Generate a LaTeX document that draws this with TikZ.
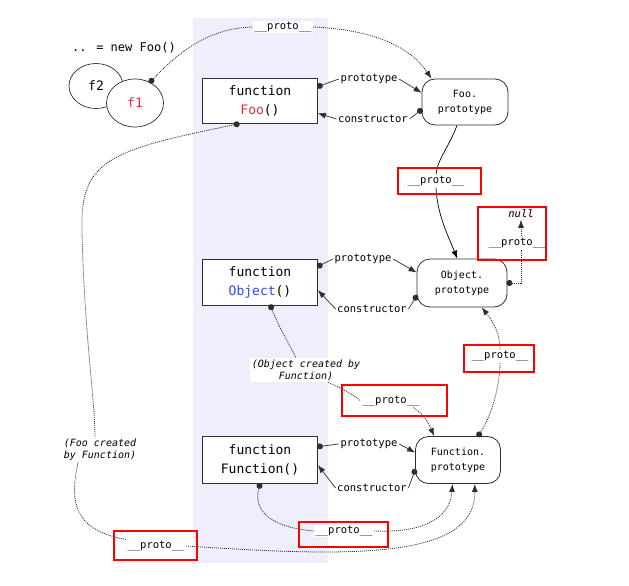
\documentclass[tikz,border=0pt]{standalone}
\usepackage{fontspec}
\setmainfont{DejaVu Sans Mono}
\usetikzlibrary{arrows.meta,shapes.geometric}

\definecolor{bandblue}{rgb}{0.933, 0.933, 0.988}
\definecolor{fooRed}{rgb}{0.900, 0.180, 0.180}
\definecolor{objBlue}{rgb}{0.180, 0.300, 0.900}
\definecolor{lineGray}{rgb}{0.180, 0.180, 0.180}

\tikzset{
  dotend/.tip={Circle[length=6pt, sep=-1pt]},
  >={Latex[length=8pt,width=6pt]},
  fnbox/.style={draw=lineGray, line width=0.8pt, fill=white, minimum width=115pt,
    minimum height=45pt, align=center, inner sep=0pt, font=\fontsize{13}{19}\selectfont},
  protobox/.style={draw=lineGray, line width=0.8pt, fill=white, rounded corners=13pt,
    minimum width=86pt, minimum height=46pt, align=center, inner sep=0pt,
    font=\fontsize{10}{15}\selectfont},
  instance/.style={ellipse, draw=lineGray, line width=0.7pt, fill=white, inner sep=0pt,
    font=\fontsize{13}{15}\selectfont},
  lbl/.style={fill=white, inner sep=1.5pt, font=\fontsize{10.5}{12}\selectfont},
  note/.style={fill=white, inner sep=1.5pt, font=\fontsize{10}{12}\selectfont\itshape},
  link/.style={draw=lineGray, line width=0.7pt},
  dotlink/.style={draw=lineGray, line width=0.8pt, dash pattern=on 1pt off 1pt},
  redmark/.style={draw=red, line width=1.8pt}
}

\begin{document}
\begin{tikzpicture}[x=1pt,y=-1pt]
\useasboundingbox (0,0) rectangle (629,586);

% band behind the constructor functions
\fill[bandblue] (193,18) rectangle (328,563);

% instances
\node[font=\fontsize{12}{14}\selectfont] (newfoo) at (124,48) {.. = new Foo()};
\node[instance, minimum width=54pt, minimum height=45pt] (f2) at (96,86) {f2};
\node[instance, minimum width=57pt, minimum height=48pt, text=fooRed] (f1) at (135,103) {f1};

% functions and prototypes
\node[fnbox] (foo) at (260,101) {function\\\textcolor{fooRed}{Foo}()};
\node[protobox] (fooproto) at (465,102) {Foo.\\prototype};
\node[fnbox, minimum height=46pt] (object) at (260,282) {function\\\textcolor{objBlue}{Object}()};
\node[protobox, minimum width=90pt, minimum height=48pt] (objproto) at (462,283) {Object.\\prototype};
\node[fnbox, minimum height=47pt] (function) at (260,460) {function\\Function()};
\node[protobox, minimum width=85pt, minimum height=47pt] (funproto) at (458,460) {Function.\\prototype};

% labels
\node[lbl] (p1) at (283,27) {\_\_proto\_\_};
\node[lbl] (lblfp) at (369,79) {prototype};
\node[lbl] (lblfc) at (373,119) {constructor};
\node[lbl] (p2) at (436,181) {\_\_proto\_\_};
\node[lbl] (lblop) at (363,259) {prototype};
\node[lbl] (lbloc) at (372,309) {constructor};
\node[lbl, fill=red!4, font=\fontsize{10.5}{12}\selectfont\itshape] (null) at (521,214) {null};
\node[lbl, fill=none] (p3) at (517,243) {\_\_proto\_\_};
\node[note, align=center] (objcreated) at (306,370) {(Object created by\\Function)};
\node[lbl] (p4) at (391,401) {\_\_proto\_\_};
\node[lbl] (p5) at (500,356) {\_\_proto\_\_};
\node[lbl] (lblfnp) at (369,444) {prototype};
\node[lbl] (lblfnc) at (372,488) {constructor};
\node[lbl] (p6) at (344,531) {\_\_proto\_\_};
\node[note, align=left] (foocreated) at (100,450) {(Foo created\\by Function)};
\node[lbl] (p7) at (156,546) {\_\_proto\_\_};

% f1 -> Foo.prototype
\draw[dotlink, dotend-] (f1.54) .. controls (185,45) and (215,28) .. (p1.west);
\draw[dotlink, ->] (p1.east) .. controls (380,30) and (412,50) .. (fooproto.145);

% Foo <-> Foo.prototype
\draw[link, dotend-] (foo.14) -- (lblfp.west);
\draw[link, ->] (lblfp.east) -- (fooproto.168);
\draw[link, dotend-] (fooproto.190) -- (lblfc.east);
\draw[link, ->] (lblfc.west) -- (foo.-12);

% Foo.prototype -> Object.prototype
\draw[black, line width=0.7pt] (fooproto.251) .. controls (450,145) and (437,160) .. (p2.north);
\draw[black, line width=0.7pt, ->] (p2.south) .. controls (437,215) and (450,240) .. (objproto.101);

% Object <-> Object.prototype
\draw[link, dotend-] (object.15) -- (lblop.west);
\draw[link, ->] (lblop.east) -- (objproto.167);
\draw[link, dotend-] (objproto.196) -- (lbloc.east);
\draw[link, ->] (lbloc.west) -- (object.-8);

% Object.prototype -> null
\draw[dotlink, dotend-] (objproto.east) -| (null.south |- p3.south);
\draw[dotlink, ->] (null.south |- p3.north) -- (null.south);

% Object -> Function.prototype
\draw[dotlink, dotend-] (object.-66) .. controls (280,330) and (290,345) .. ([xshift=-10pt]objcreated.north);
\draw[dotlink] ([xshift=22pt]objcreated.south) .. controls (340,388) and (350,392) .. (p4.west);
\draw[dotlink, ->] ([xshift=-8pt]p4.south east) .. controls (422,412) and (428,422) .. (funproto.135);

% Function.prototype -> Object.prototype
\draw[dotlink, dotend-] (funproto.50) .. controls (492,415) and (500,385) .. (p5.south);
\draw[dotlink, ->] (p5.north) .. controls (500,330) and (490,318) .. (objproto.-51);

% Function <-> Function.prototype
\draw[link, dotend-] (function.13) -- (lblfnp.west);
\draw[link, ->] (lblfnp.east) -- (funproto.170);
\draw[link, dotend-] (funproto.193) -- (lblfnc.east);
\draw[link, ->] (lblfnc.west) -- (function.-5);

% Function -> Function.prototype
\draw[dotlink, dotend-] (function.south) .. controls (252,515) and (278,528) .. (p6.west);
\draw[dotlink, ->] (p6.east) .. controls (420,533) and (450,520) .. (funproto.257);

% Foo -> Function.prototype
\draw[dotlink, dotend-] (foo.227) .. controls (110,150) and (80,160) .. (82,230)
  .. controls (84,330) and (95,400) .. ([xshift=-5pt]foocreated.north);
\draw[dotlink] ([xshift=-22pt]foocreated.south) .. controls (70,500) and (72,530) .. (p7.north west);
\draw[dotlink, ->] (p7.east) .. controls (340,556) and (476,562) .. (funproto.-55);

% highlight marks
\draw[redmark, line width=1.2pt] (398,168) rectangle (481,194);
\draw[redmark, line width=2.4pt] (478,207) rectangle (546,260);
\draw[redmark] (464,345) rectangle (534,372);
\draw[redmark] (342,385) rectangle (447,416);
\draw[redmark] (299,522) rectangle (388,547);
\draw[redmark] (114,531) rectangle (197,560);
\end{tikzpicture}
\end{document}
